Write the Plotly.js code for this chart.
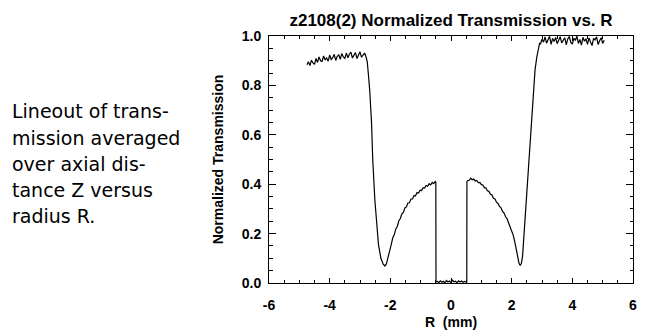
<!DOCTYPE html>
<html>
<head>
<meta charset="utf-8">
<script src="https://cdn.plot.ly/plotly-3.0.1.min.js"></script>
<style>html,body{margin:0;padding:0;background:#fff;}#chart{width:658px;height:333px;}</style>
</head>
<body>
<div id="chart"></div>
<script>
// ---- data (R in mm, normalized transmission) ----
const rLeftPlateau = [-4.75,-4.70,-4.65,-4.60,-4.55,-4.50,-4.45,-4.40,-4.35,-4.30,-4.25,-4.20,-4.15,-4.10,-4.05,-4.00,-3.95,-3.90,-3.85,-3.80,-3.75,-3.70,-3.65,-3.60,-3.55,-3.50,-3.45,-3.40,-3.35,-3.30,-3.25,-3.20,-3.15,-3.10,-3.05,-3.00,-2.95,-2.90,-2.85];
const tLeftPlateau = [0.884,0.896,0.880,0.902,0.891,0.885,0.909,0.893,0.915,0.900,0.897,0.919,0.903,0.911,0.898,0.923,0.905,0.912,0.926,0.901,0.918,0.924,0.906,0.929,0.915,0.909,0.931,0.912,0.926,0.935,0.911,0.922,0.933,0.909,0.927,0.936,0.914,0.925,0.931];

const rLeftFall = [-2.80,-2.76,-2.72,-2.68,-2.62,-2.58,-2.51,-2.44,-2.39,-2.31,-2.24,-2.18,-2.13,-2.07];
const tLeftFall = [0.915,0.895,0.840,0.780,0.650,0.500,0.336,0.215,0.154,0.100,0.077,0.069,0.077,0.107];

const rLeftArc = [-2.02,-1.97,-1.92,-1.87,-1.82,-1.77,-1.72,-1.67,-1.62,-1.57,-1.52,-1.47,-1.42,-1.37,-1.32,-1.27,-1.22,-1.17,-1.12,-1.07,-1.02,-0.97,-0.92,-0.87,-0.82,-0.77,-0.72,-0.67,-0.62,-0.57,-0.52,-0.50];
const tLeftArc = [0.138,0.155,0.183,0.195,0.219,0.229,0.252,0.261,0.280,0.286,0.304,0.308,0.324,0.325,0.340,0.340,0.354,0.353,0.366,0.364,0.376,0.374,0.386,0.384,0.395,0.392,0.402,0.397,0.407,0.402,0.411,0.408];

const rCenter = [-0.495,-0.45,-0.40,-0.35,-0.30,-0.25,-0.20,-0.15,-0.10,-0.05,0.00,0.05,0.10,0.15,0.20,0.25,0.30,0.35,0.40,0.45,0.50,0.52];
const tCenter = [0.004,0.006,0.002,0.009,0.003,0.007,0.001,0.010,0.004,0.008,0.002,0.011,0.005,0.007,0.001,0.009,0.004,0.008,0.003,0.006,0.004,0.004];

const rRightArc = [0.525,0.55,0.60,0.65,0.70,0.75,0.80,0.85,0.90,0.95,1.00,1.05,1.10,1.15,1.20,1.25,1.30,1.35,1.40,1.45,1.50,1.55,1.60,1.65,1.70,1.75,1.80,1.85,1.90,1.95,2.00,2.05,2.10,2.15,2.20,2.24,2.28,2.32];
const tRightArc = [0.410,0.414,0.416,0.424,0.418,0.421,0.413,0.415,0.406,0.407,0.398,0.397,0.386,0.385,0.373,0.371,0.359,0.356,0.343,0.340,0.327,0.322,0.310,0.304,0.290,0.283,0.268,0.260,0.243,0.229,0.211,0.194,0.168,0.140,0.102,0.081,0.072,0.079];

const rRightRise = [2.36,2.42,2.48,2.54,2.60,2.66,2.71,2.77,2.83,2.88,2.92];
const tRightRise = [0.110,0.220,0.340,0.460,0.580,0.700,0.780,0.862,0.916,0.955,0.970];

const rRightPlateau = [2.95,3.00,3.05,3.10,3.15,3.20,3.25,3.30,3.35,3.40,3.45,3.50,3.55,3.60,3.65,3.70,3.75,3.80,3.85,3.90,3.95,4.00,4.05,4.10,4.15,4.20,4.25,4.30,4.35,4.40,4.45,4.50,4.55,4.60,4.65,4.70,4.75,4.80,4.85,4.90,4.95,5.00,5.05];
const tRightPlateau = [0.968,0.987,0.975,0.996,0.971,0.983,0.999,0.966,0.990,0.978,0.994,0.969,0.985,0.997,0.972,0.980,0.993,0.964,0.988,0.998,0.974,0.967,0.991,0.982,1.000,0.970,0.986,0.963,0.995,0.979,0.989,0.966,0.992,0.976,0.961,0.990,0.984,0.997,0.965,0.981,0.993,0.970,0.983];

const xTickVals = [-6,-4,-2,0,2,4,6];
const xTickText = ['-6','-4','-2','0','2','4','6'];
const yTickVals = [0,0.2,0.4,0.6,0.8,1.0];
const yTickText = ['0.0','0.2','0.4','0.6','0.8','1.0'];

const sideText = ['Lineout of trans-','mission averaged','over axial dis-','tance Z versus','radius R.'];

// ---- build ----
const R = [].concat(rLeftPlateau, rLeftFall, rLeftArc, rCenter, rRightArc, rRightRise, rRightPlateau);
const T = [].concat(tLeftPlateau, tLeftFall, tLeftArc, tCenter, tRightArc, tRightRise, tRightPlateau);

const M = {l:269, r:25, t:36, b:50};
const H = 333, plotH = H - M.t - M.b, W = 658, plotW = W - M.l - M.r;
const lineCenters = [111, 138, 164, 190, 216];

const annotations = sideText.map((s, i) => ({
  text: s, xref: 'paper', yref: 'paper',
  x: (10 - M.l) / plotW, y: (H - M.b - lineCenters[i]) / plotH,
  xanchor: 'left', yanchor: 'middle', showarrow: false,
  font: {family: 'DejaVu Sans', size: 19, color: '#000'}
}));

const tickFont = {family: 'Liberation Sans, Arial, sans-serif', size: 14, color: '#000', weight: 'bold'};

const layout = {
  width: W, height: H, margin: M,
  paper_bgcolor: '#fff', plot_bgcolor: '#fff',
  showlegend: false,
  title: {
    text: 'z2108(2) Normalized Transmission vs. R',
    font: {family: 'Liberation Sans, Arial, sans-serif', size: 17, color: '#000', weight: 'bold'},
    xref: 'paper', x: 0.5, xanchor: 'center',
    yref: 'container', y: 1 - 20 / H, yanchor: 'middle'
  },
  xaxis: {
    range: [-6, 6], tickmode: 'array', tickvals: xTickVals, ticktext: xTickText,
    ticks: 'inside', ticklen: 5, tickwidth: 1, tickcolor: '#000',
    minor: {dtick: 0.5, tick0: 0, ticks: 'inside', ticklen: 3, tickwidth: 1, tickcolor: '#000', showgrid: false},
    showline: true, linecolor: '#000', linewidth: 1, mirror: 'ticks',
    showgrid: false, zeroline: false, tickfont: tickFont, ticklabelstandoff: 9,
    title: {text: 'R\u00a0\u00a0(mm)', font: tickFont, standoff: 5}
  },
  yaxis: {
    range: [0, 1], tickmode: 'array', tickvals: yTickVals, ticktext: yTickText,
    ticks: 'inside', ticklen: 7, tickwidth: 1, tickcolor: '#000',
    minor: {dtick: 0.05, tick0: 0, ticks: 'inside', ticklen: 3.5, tickwidth: 1, tickcolor: '#000', showgrid: false},
    showline: true, linecolor: '#000', linewidth: 1, mirror: 'ticks',
    showgrid: false, zeroline: false, tickfont: tickFont, ticklabelstandoff: 4,
    title: {text: 'Normalized Transmission', font: {family: 'Liberation Sans, Arial, sans-serif', size: 14, color: '#000', weight: 'bold'}, standoff: 14}
  },
  annotations: annotations
};

Plotly.newPlot('chart', [{
  x: R, y: T, type: 'scatter', mode: 'lines',
  line: {color: '#000', width: 1.2}, hoverinfo: 'skip'
}], layout, {staticPlot: true, displayModeBar: false});
</script>
</body>
</html>
